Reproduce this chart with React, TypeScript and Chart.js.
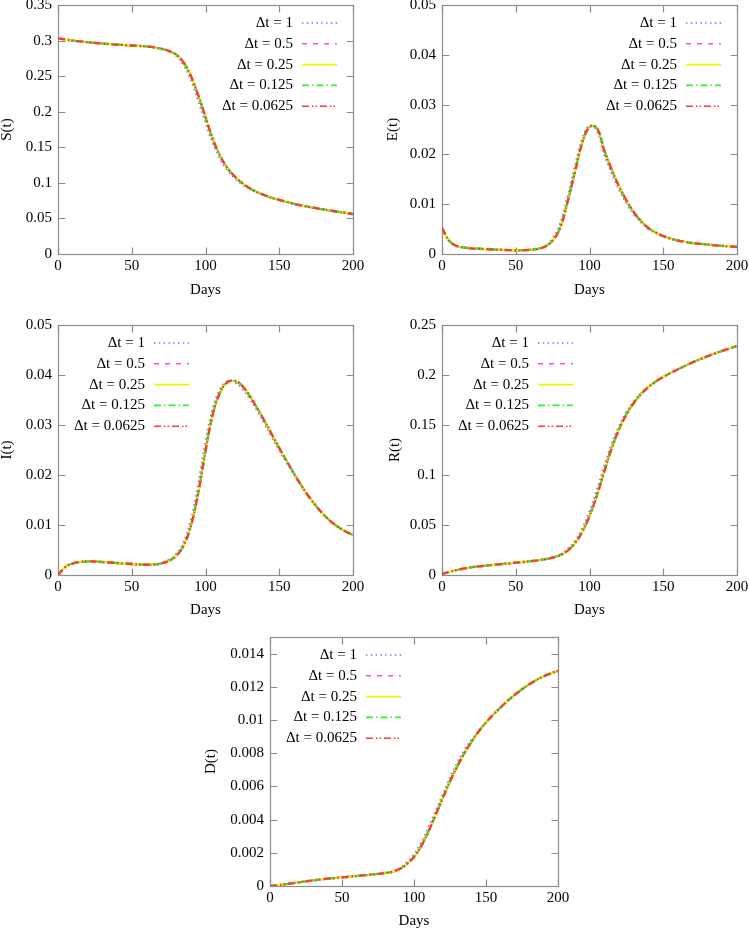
import React, { useEffect, useRef } from "react";
import { Chart, registerables } from "chart.js";

Chart.register(...registerables);

// ---------- data ----------
const DAYS = [
  0, 5, 10, 15, 20, 25, 30, 35, 40, 45, 50, 55, 60, 65, 70, 75, 80, 85, 90, 95, 100,
  105, 110, 115, 120, 125, 130, 135, 140, 145, 150, 155, 160, 165, 170, 175, 180, 185, 190, 195, 200,
];

const SERIES_LABELS = ["Δt = 1", "Δt = 0.5", "Δt = 0.25", "Δt = 0.125", "Δt = 0.0625"];

// S(t)
const S_DT1 = [
  0.303, 0.3015, 0.3, 0.2988, 0.2977, 0.2967, 0.2958, 0.295, 0.2943, 0.2937, 0.2931,
  0.2925, 0.2918, 0.2905, 0.2883, 0.285, 0.279, 0.2665, 0.2455, 0.2165, 0.1855,
  0.156, 0.1335, 0.1175, 0.1065, 0.098, 0.0915, 0.0868, 0.0827, 0.079, 0.076,
  0.0732, 0.0706, 0.0683, 0.0663, 0.0644, 0.0626, 0.0609, 0.0593, 0.0577, 0.0562,
];
const S_FINE = [
  0.303, 0.3015, 0.3, 0.2988, 0.2977, 0.2967, 0.2958, 0.295, 0.2943, 0.2937, 0.2931,
  0.2925, 0.2918, 0.2905, 0.2885, 0.2855, 0.2805, 0.2695, 0.2505, 0.2235, 0.1925,
  0.1615, 0.1375, 0.1205, 0.1085, 0.0995, 0.0925, 0.087, 0.0827, 0.079, 0.076,
  0.0732, 0.0706, 0.0683, 0.0663, 0.0644, 0.0626, 0.0609, 0.0593, 0.0577, 0.0562,
];

// E(t)
const E_DT1 = [
  0.0052, 0.0026, 0.0016, 0.0013, 0.00115, 0.00105, 0.00097, 0.0009, 0.00083, 0.00078, 0.00075,
  0.00077, 0.00088, 0.0011, 0.0016, 0.0031, 0.006, 0.0113, 0.0174, 0.023, 0.0258,
  0.0248, 0.02, 0.0163, 0.013, 0.0103, 0.008, 0.0064, 0.005, 0.0042, 0.0036,
  0.0031, 0.0027, 0.00245, 0.0022, 0.00205, 0.0019, 0.00175, 0.00163, 0.00152, 0.00142,
];
const E_FINE = [
  0.0052, 0.0026, 0.0016, 0.0013, 0.00115, 0.00105, 0.00097, 0.0009, 0.00083, 0.00078, 0.00075,
  0.00076, 0.00085, 0.00105, 0.0015, 0.0027, 0.0052, 0.0103, 0.0163, 0.0222, 0.0255,
  0.0253, 0.0208, 0.017, 0.0136, 0.0108, 0.0084, 0.0066, 0.0052, 0.0043, 0.0036,
  0.0031, 0.0027, 0.00245, 0.0022, 0.00205, 0.0019, 0.00175, 0.00163, 0.00152, 0.00142,
];

// I(t)
const I_DT1 = [
  0, 0.0016, 0.0023, 0.0026, 0.0027, 0.0027, 0.0026, 0.0025, 0.0024, 0.0023, 0.0022,
  0.0021, 0.00205, 0.0021, 0.0024, 0.003, 0.0041, 0.0064, 0.0108, 0.018, 0.0265,
  0.0333, 0.0372, 0.0388, 0.0385, 0.0373, 0.0353, 0.0329, 0.0303, 0.0276, 0.025,
  0.0225, 0.0201, 0.0178, 0.0157, 0.0138, 0.0121, 0.0107, 0.0096, 0.0087, 0.008,
];
const I_FINE = [
  0, 0.0016, 0.0023, 0.0026, 0.0027, 0.0027, 0.0026, 0.0025, 0.0024, 0.0023, 0.0022,
  0.0021, 0.00205, 0.0021, 0.0023, 0.0028, 0.0038, 0.0058, 0.0097, 0.0163, 0.0248,
  0.0322, 0.0366, 0.0386, 0.0388, 0.0378, 0.0358, 0.0334, 0.0308, 0.0281, 0.0254,
  0.0228, 0.0203, 0.0179, 0.0157, 0.0138, 0.0121, 0.0107, 0.0096, 0.0087, 0.008,
];

// R(t)
const R_DT1 = [
  0.001, 0.0032, 0.005, 0.0065, 0.0077, 0.0086, 0.0094, 0.0102, 0.0109, 0.0116, 0.0123,
  0.013, 0.0138, 0.0147, 0.0159, 0.0176, 0.0205, 0.0255, 0.0335, 0.046, 0.0635,
  0.085, 0.1085, 0.1305, 0.1485, 0.1625, 0.1735, 0.182, 0.1887, 0.1938, 0.198,
  0.202, 0.2057, 0.2093, 0.2127, 0.2158, 0.2187, 0.2215, 0.2241, 0.2266, 0.229,
];
const R_FINE = [
  0.001, 0.0032, 0.005, 0.0065, 0.0077, 0.0086, 0.0094, 0.0102, 0.0109, 0.0116, 0.0123,
  0.013, 0.0138, 0.0147, 0.0158, 0.0173, 0.0198, 0.0242, 0.0315, 0.0428, 0.059,
  0.0795, 0.1035, 0.1265, 0.1455, 0.1605, 0.172, 0.181, 0.188, 0.1935, 0.198,
  0.202, 0.2057, 0.2093, 0.2127, 0.2158, 0.2187, 0.2215, 0.2241, 0.2266, 0.229,
];

// D(t)
const D_DT1 = [
  0, 0.00004, 0.0001, 0.00016, 0.00022, 0.00028, 0.00034, 0.00039, 0.00044, 0.00048, 0.00052,
  0.00056, 0.0006, 0.00064, 0.00068, 0.00073, 0.00079, 0.00089, 0.00108, 0.00142, 0.0019,
  0.0026, 0.0035, 0.0045, 0.0055, 0.0065, 0.0074, 0.0082, 0.0088, 0.00935, 0.00985,
  0.01032, 0.01075, 0.01115, 0.01152, 0.01185, 0.01215, 0.01241, 0.01263, 0.01281, 0.01296,
];
const D_FINE = [
  0, 0.00004, 0.0001, 0.00016, 0.00022, 0.00028, 0.00034, 0.00039, 0.00044, 0.00048, 0.00052,
  0.00056, 0.0006, 0.00064, 0.00068, 0.00073, 0.00078, 0.00086, 0.00102, 0.00132, 0.00175,
  0.0024, 0.00328, 0.00428, 0.0053, 0.0063, 0.0072, 0.008, 0.0087, 0.00932, 0.00985,
  0.01032, 0.01075, 0.01115, 0.01152, 0.01185, 0.01215, 0.01241, 0.01263, 0.01281, 0.01296,
];

// tick labels
const X_TICKS = [0, 50, 100, 150, 200];
const S_TICKS = [0, 0.05, 0.1, 0.15, 0.2, 0.25, 0.3, 0.35];
const E_TICKS = [0, 0.01, 0.02, 0.03, 0.04, 0.05];
const I_TICKS = [0, 0.01, 0.02, 0.03, 0.04, 0.05];
const R_TICKS = [0, 0.05, 0.1, 0.15, 0.2, 0.25];
const D_TICKS = [0, 0.002, 0.004, 0.006, 0.008, 0.01, 0.012, 0.014];

// ---------- styles ----------
const FONT_FAMILY = '"Liberation Serif", "Times New Roman", serif';
const SERIES_COLORS = ["#7878ff", "#ff48ff", "#f4f400", "#30ee30", "#ff3838"];
const SERIES_DASHES: number[][] = [[1.5, 3.3], [5, 6], [], [7, 3, 1.5, 3], [7, 3, 1.5, 2, 1.5, 3]];

type PanelCfg = {
  x: number; y: number; w: number; h: number;
  L: number; R: number; T: number; B: number;
  yTitle: string; yTitlePad: number; xTitlePad: number;
  yMax: number; yTicks: number[];
  coarse: number[]; fine: number[];
  side: "left" | "right";
};

const PANELS: PanelCfg[] = [
  { x: 0, y: 0, w: 375, h: 300, L: 58, R: 353, T: 5, B: 254, yTitle: "S(t)", yTitlePad: 0, xTitlePad: 2.5,
    yMax: 0.35, yTicks: S_TICKS, coarse: S_DT1, fine: S_FINE, side: "right" },
  { x: 375, y: 0, w: 374, h: 300, L: 67, R: 362, T: 5, B: 254, yTitle: "E(t)", yTitlePad: 10.5, xTitlePad: 2.5,
    yMax: 0.05, yTicks: E_TICKS, coarse: E_DT1, fine: E_FINE, side: "right" },
  { x: 0, y: 300, w: 375, h: 320, L: 58, R: 353, T: 25, B: 275, yTitle: "I(t)", yTitlePad: 0, xTitlePad: 2.5,
    yMax: 0.05, yTicks: I_TICKS, coarse: I_DT1, fine: I_FINE, side: "left" },
  { x: 375, y: 300, w: 374, h: 320, L: 67, R: 362, T: 25, B: 275, yTitle: "R(t)", yTitlePad: 13, xTitlePad: 2.5,
    yMax: 0.25, yTicks: R_TICKS, coarse: R_DT1, fine: R_FINE, side: "left" },
  { x: 200, y: 620, w: 375, h: 309, L: 70, R: 358, T: 17, B: 266, yTitle: "D(t)", yTitlePad: 4, xTitlePad: 0,
    yMax: 0.015, yTicks: D_TICKS, coarse: D_DT1, fine: D_FINE, side: "left" },
];

const framePlugin = {
  id: "frame",
  beforeDatasetsDraw(chart: any) {
    const { ctx, chartArea: a, scales } = chart;
    ctx.save();
    ctx.strokeStyle = "#8c8c8c";
    ctx.lineWidth = 1.2;
    const l = Math.round(a.left) + 0.5, r = Math.round(a.right) + 0.5;
    const t = Math.round(a.top) + 0.5, b = Math.round(a.bottom) + 0.5;
    ctx.strokeRect(l, t, r - l, b - t);
    ctx.beginPath();
    for (const tk of scales.x.ticks) {
      const px = Math.round(scales.x.getPixelForValue(tk.value)) + 0.5;
      ctx.moveTo(px, b); ctx.lineTo(px, b - 7);
      ctx.moveTo(px, t); ctx.lineTo(px, t + 7);
    }
    for (const tk of scales.y.ticks) {
      const py = Math.round(scales.y.getPixelForValue(tk.value)) + 0.5;
      ctx.moveTo(l, py); ctx.lineTo(l + 7, py);
      ctx.moveTo(r, py); ctx.lineTo(r - 7, py);
    }
    ctx.stroke();
    ctx.restore();
  },
};

const keyPlugin = {
  id: "key",
  afterDatasetsDraw(chart: any, _args: any, opts: any) {
    const { ctx, chartArea: a } = chart;
    const xText = opts.side === "right" ? a.right - 60 : a.left + 87;
    ctx.save();
    ctx.font = `15px ${FONT_FAMILY}`;
    ctx.textAlign = "right";
    ctx.textBaseline = "middle";
    chart.data.datasets.forEach((ds: any, i: number) => {
      const y = a.top + 18 + i * 20.8;
      ctx.fillStyle = "#000";
      ctx.setLineDash([]);
      ctx.fillText(ds.label, xText, y);
      ctx.strokeStyle = ds.borderColor;
      ctx.lineWidth = 1.6;
      ctx.setLineDash(ds.borderDash);
      ctx.beginPath();
      ctx.moveTo(xText + 9, y);
      ctx.lineTo(xText + 44, y);
      ctx.stroke();
    });
    ctx.restore();
  },
};

const fmt = (v: any) => String(Number(Number(v).toFixed(4)));

function Panel({ cfg }: { cfg: PanelCfg }) {
  const ref = useRef<HTMLCanvasElement>(null);
  useEffect(() => {
    const canvas = ref.current;
    if (!canvas) return;
    const datasets = SERIES_LABELS.map((label, i) => ({
      label,
      data: DAYS.map((d, j) => ({ x: d, y: (i === 0 ? cfg.coarse : cfg.fine)[j] })),
      borderColor: SERIES_COLORS[i],
      backgroundColor: SERIES_COLORS[i],
      borderWidth: 2.3,
      borderDash: SERIES_DASHES[i],
      pointRadius: 0,
      fill: false,
      tension: 0.4,
      order: SERIES_LABELS.length - 1 - i,
    }));
    const font = { family: FONT_FAMILY, size: 15, lineHeight: 1 };
    const chart = new Chart(canvas, {
      type: "line",
      data: { datasets },
      options: {
        animation: false,
        responsive: false,
        layout: { padding: { left: 0, top: cfg.T, right: cfg.w - cfg.R, bottom: 0 } },
        plugins: {
          legend: { display: false },
          tooltip: { enabled: false },
          // @ts-ignore
          key: { side: cfg.side },
        },
        scales: {
          x: {
            type: "linear",
            position: "bottom",
            min: 0,
            max: 200,
            grid: { display: false, drawTicks: false },
            border: { display: false },
            ticks: { padding: 5, font, color: "#000", autoSkip: false, maxRotation: 0, callback: fmt },
            title: { display: true, text: "Days", font, color: "#000", padding: { top: 0, bottom: cfg.xTitlePad } },
            afterBuildTicks: (s: any) => { s.ticks = X_TICKS.map((v) => ({ value: v })); },
            afterFit: (s: any) => { s.height = cfg.h - cfg.B; s.paddingLeft = 0; s.paddingRight = 0; },
          },
          y: {
            type: "linear",
            position: "left",
            min: 0,
            max: cfg.yMax,
            grid: { display: false, drawTicks: false },
            border: { display: false },
            ticks: { padding: 6, font, color: "#000", autoSkip: false, callback: fmt },
            title: { display: true, text: cfg.yTitle, font, color: "#000", padding: { top: cfg.yTitlePad, bottom: 0 } },
            afterBuildTicks: (s: any) => { s.ticks = cfg.yTicks.map((v) => ({ value: v })); },
            afterFit: (s: any) => { s.width = cfg.L; s.paddingTop = 0; s.paddingBottom = 0; },
          },
        },
      } as any,
      plugins: [framePlugin, keyPlugin] as any,
    });
    return () => chart.destroy();
  }, [cfg]);
  return (
    <canvas
      ref={ref}
      width={cfg.w}
      height={cfg.h}
      style={{ position: "absolute", left: cfg.x, top: cfg.y, width: cfg.w, height: cfg.h }}
    />
  );
}

export default function App() {
  return (
    <div style={{ position: "absolute", left: 0, top: 0, width: 749, height: 929, background: "#fff", overflow: "hidden" }}>
      {PANELS.map((p, i) => (
        <Panel key={i} cfg={p} />
      ))}
    </div>
  );
}
